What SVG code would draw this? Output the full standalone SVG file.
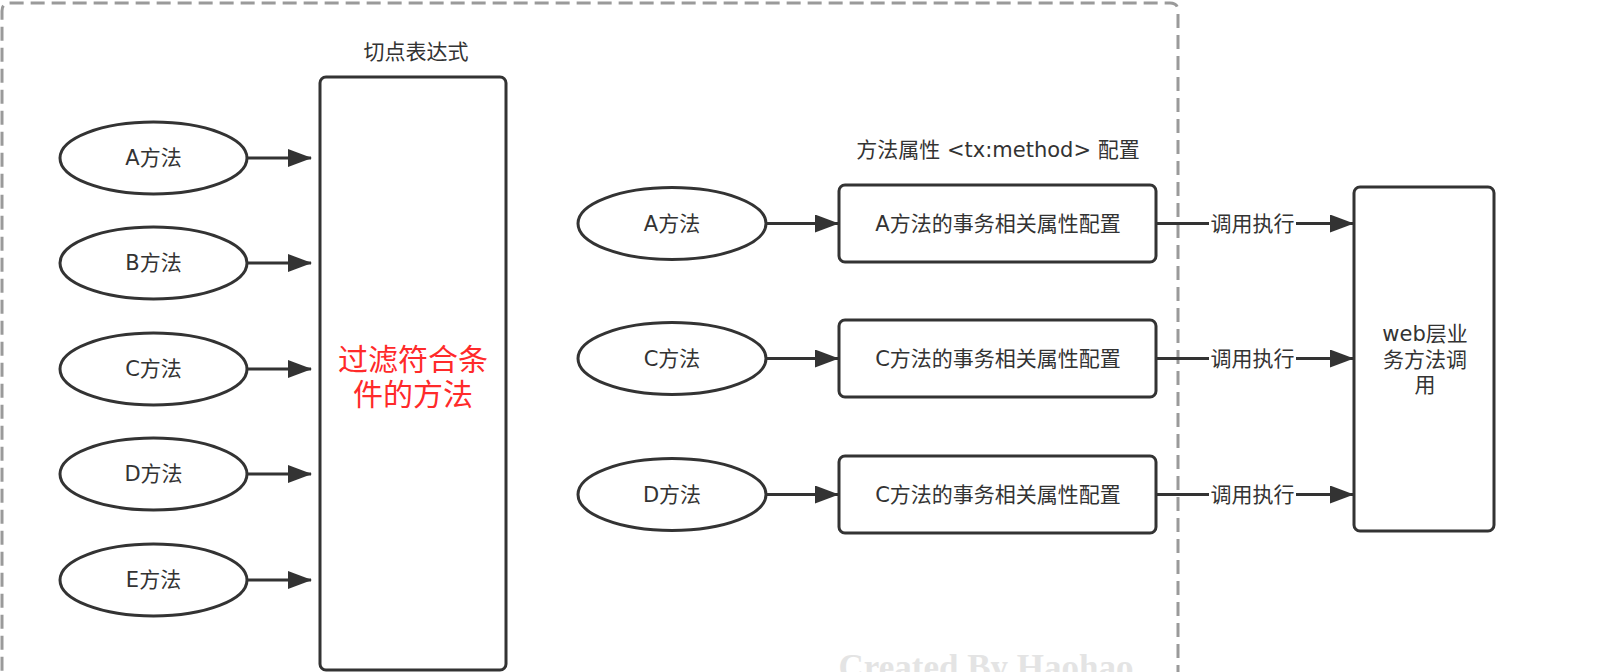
<svg xmlns="http://www.w3.org/2000/svg" width="1619" height="672" viewBox="0 0 1619 672">
<defs>
<style>
.sh{fill:#fff;stroke:#333;stroke-width:3}
.t{font-family:"DejaVu Sans","Noto Sans CJK SC",sans-serif;font-size:21px;fill:#333;text-anchor:middle;dominant-baseline:central}
.red{font-family:"DejaVu Sans","Noto Sans CJK SC",sans-serif;font-size:30px;fill:#ff2a2a;text-anchor:middle;dominant-baseline:central}
.ln{fill:none;stroke:#333;stroke-width:3}
.lb{fill:#fff}
</style>
<marker id="ah" viewBox="0 0 24 18" refX="23" refY="9" markerWidth="24" markerHeight="18" markerUnits="userSpaceOnUse" orient="auto">
<path d="M0,0 L24,9 L0,18 Z" fill="#333"/>
</marker>
</defs>
<rect width="1619" height="672" fill="#fff"/>
<g id="container">
<path d="M1178,700 L1178,11 Q1178,3 1170,3 L10,3 Q2,3 2,11 L2,700" fill="none" stroke="#9a9a9a" stroke-width="3" stroke-dasharray="14 7"/>
</g>
<g id="watermark">
<text x="986" y="679" font-family="Liberation Serif,serif" font-weight="bold" font-size="35" fill="#e4e4e4" text-anchor="middle">Created By Haohao</text>
</g>
<g id="pointcut-label"><text class="t" x="416" y="52">切点表达式</text></g>
<g id="filter">
<rect class="sh" x="320" y="77" width="186" height="593" rx="6"/>
<text class="red" x="413" y="359">过滤符合条</text>
<text class="red" x="413" y="394">件的方法</text>
</g>
<g id="m-a"><ellipse class="sh" cx="153.5" cy="158" rx="93.5" ry="36"/><text class="t" x="153.5" y="158">A方法</text></g>
<g id="m-b"><ellipse class="sh" cx="153.5" cy="263" rx="93.5" ry="36"/><text class="t" x="153.5" y="263">B方法</text></g>
<g id="m-c"><ellipse class="sh" cx="153.5" cy="369" rx="93.5" ry="36"/><text class="t" x="153.5" y="369">C方法</text></g>
<g id="m-d"><ellipse class="sh" cx="153.5" cy="474" rx="93.5" ry="36"/><text class="t" x="153.5" y="474">D方法</text></g>
<g id="m-e"><ellipse class="sh" cx="153.5" cy="580" rx="93.5" ry="36"/><text class="t" x="153.5" y="580">E方法</text></g>
<g id="method-label"><text class="t" x="998" y="150">方法属性 &lt;tx:method&gt; 配置</text></g>
<g id="n-a"><ellipse class="sh" cx="672" cy="223.5" rx="94" ry="36"/><text class="t" x="672" y="223.5">A方法</text></g>
<g id="n-c"><ellipse class="sh" cx="672" cy="358.5" rx="94" ry="36"/><text class="t" x="672" y="358.5">C方法</text></g>
<g id="n-d"><ellipse class="sh" cx="672" cy="494.5" rx="94" ry="36"/><text class="t" x="672" y="494.5">D方法</text></g>
<g id="cfg-a"><rect class="sh" x="839" y="185" width="317" height="77" rx="6"/><text class="t" x="998" y="223.5">A方法的事务相关属性配置</text></g>
<g id="cfg-c"><rect class="sh" x="839" y="320" width="317" height="77" rx="6"/><text class="t" x="998" y="358.5">C方法的事务相关属性配置</text></g>
<g id="cfg-d"><rect class="sh" x="839" y="456" width="317" height="77" rx="6"/><text class="t" x="998" y="494.5">C方法的事务相关属性配置</text></g>
<g id="web">
<rect class="sh" x="1354" y="187" width="140" height="344" rx="6"/>
<text class="t" x="1425" y="334">web层业</text>
<text class="t" x="1425" y="359.5">务方法调</text>
<text class="t" x="1425" y="385">用</text>
</g>
<g id="connectors">
<path class="ln" d="M247,158 L311,158" marker-end="url(#ah)"/>
<path class="ln" d="M247,263 L311,263" marker-end="url(#ah)"/>
<path class="ln" d="M247,369 L311,369" marker-end="url(#ah)"/>
<path class="ln" d="M247,474 L311,474" marker-end="url(#ah)"/>
<path class="ln" d="M247,580 L311,580" marker-end="url(#ah)"/>
<path class="ln" d="M766,223.5 L838,223.5" marker-end="url(#ah)"/>
<path class="ln" d="M766,358.5 L838,358.5" marker-end="url(#ah)"/>
<path class="ln" d="M766,494.5 L838,494.5" marker-end="url(#ah)"/>
<path class="ln" d="M1156,223.5 L1353,223.5" marker-end="url(#ah)"/>
<path class="ln" d="M1156,358.5 L1353,358.5" marker-end="url(#ah)"/>
<path class="ln" d="M1156,494.5 L1353,494.5" marker-end="url(#ah)"/>
<rect class="lb" x="1209" y="211" width="87" height="25"/>
<rect class="lb" x="1209" y="346" width="87" height="25"/>
<rect class="lb" x="1209" y="482" width="87" height="25"/>
<text class="t" x="1252.5" y="223.5">调用执行</text>
<text class="t" x="1252.5" y="358.5">调用执行</text>
<text class="t" x="1252.5" y="494.5">调用执行</text>
</g>
</svg>
